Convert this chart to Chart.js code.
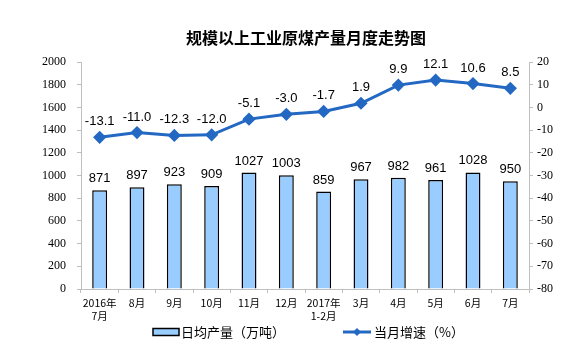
<!DOCTYPE html>
<html><head><meta charset="utf-8">
<script src="https://cdn.jsdelivr.net/npm/chart.js@4/dist/chart.umd.min.js"></script>
<style>html,body{margin:0;padding:0;background:#fff;}#wrap{width:574px;height:356px;}</style>
</head><body><div id="wrap"><canvas id="c" width="574" height="356"></canvas></div>
<script>
const categories = [["2016年","7月"],"8月","9月","10月","11月","12月",["2017年","1-2月"],"3月","4月","5月","6月","7月"];
const dailyOutput = [871,897,923,909,1027,1003,859,967,982,961,1028,950];
const monthlyGrowth = [-13.1,-11.0,-12.3,-12.0,-5.1,-3.0,-1.7,1.9,9.9,12.1,10.6,8.5];
const titleText = "规模以上工业原煤产量月度走势图";
const barLabel = "日均产量（万吨）";
const lineLabel = "当月增速（%）";

const BAR_FILL = "#99CCFF", LINE_COLOR = "#2368C2";
const CJK = "'Noto Sans CJK SC', sans-serif";
const SERIF = "'Liberation Serif', 'DejaVu Serif', serif";

const valueLabels = {
  id: 'valueLabels',
  afterDatasetsDraw(chart){
    const ctx = chart.ctx;
    ctx.save();
    ctx.font = "13px 'Liberation Sans', Arial, sans-serif";
    ctx.fillStyle = "#000";
    ctx.textAlign = "center";
    ctx.textBaseline = "alphabetic";
    chart.getDatasetMeta(0).data.forEach((el,i)=>{
      ctx.fillText(String(dailyOutput[i]), el.x, el.y - 8);
    });
    chart.getDatasetMeta(1).data.forEach((el,i)=>{
      ctx.fillText(monthlyGrowth[i].toFixed(1), el.x, el.y - 12);
    });
    ctx.restore();
  }
};

const customLegend = {
  id: 'customLegend',
  afterDraw(chart){
    const ctx = chart.ctx;
    const cy = 332;
    ctx.save();
    // bar swatch
    ctx.fillStyle = BAR_FILL;
    ctx.fillRect(153, cy - 3.5, 26, 7);
    ctx.strokeStyle = "#000"; ctx.lineWidth = 1.5;
    ctx.strokeRect(153, cy - 3.5, 26, 7);
    ctx.font = "13px " + CJK;
    ctx.fillStyle = "#000"; ctx.textAlign = "left"; ctx.textBaseline = "middle";
    ctx.fillText(barLabel, 181, cy);
    // line swatch
    ctx.strokeStyle = LINE_COLOR; ctx.lineWidth = 3;
    ctx.beginPath(); ctx.moveTo(343, cy); ctx.lineTo(371, cy); ctx.stroke();
    ctx.fillStyle = LINE_COLOR; ctx.beginPath();
    ctx.moveTo(357, cy - 4); ctx.lineTo(361, cy); ctx.lineTo(357, cy + 4); ctx.lineTo(353, cy); ctx.closePath(); ctx.fill();
    ctx.fillStyle = "#000";
    ctx.fillText(lineLabel, 374, cy);
    ctx.restore();
  }
};

new Chart(document.getElementById('c'), {
  type: 'bar',
  data: {
    labels: categories,
    datasets: [
      { type:'bar', label: barLabel, data: dailyOutput, yAxisID:'y',
        backgroundColor: BAR_FILL, borderColor:'#000', borderWidth:1.5,
        barPercentage: 0.4, categoryPercentage: 1.0, order: 2 },
      { type:'line', label: lineLabel, data: monthlyGrowth, yAxisID:'y1',
        borderColor: LINE_COLOR, backgroundColor: LINE_COLOR, borderWidth: 3,
        pointStyle:'rectRot', pointRadius: 4.5, pointBackgroundColor: LINE_COLOR,
        pointBorderColor: LINE_COLOR, tension: 0, order: 1 }
    ]
  },
  options: {
    responsive: false, animation: false,
    layout: { padding: { left: 38, right: 0, top: 0, bottom: 27 } },
    plugins: {
      title: { display: true, text: titleText, color:'#000',
        font: { family: CJK, size: 16, weight: 'bold' }, padding: { top: 28, bottom: 15 } },
      legend: { display: false },
      tooltip: { enabled:false }
    },
    scales: {
      x: {
        afterFit(s){ s.height = 40; },
        grid: { display: true, drawOnChartArea: false, offset: true, color:'#BFBFBF', tickLength: 4 },
        border: { display: true, color:'#BFBFBF', width: 1 },
        ticks: { color:'#000', font: { family: CJK, size: 10.5 }, maxRotation: 0, autoSkip: false, padding: 4 }
      },
      y: {
        position:'left', min: 0, max: 2000,
        afterFit(s){ s.width = 43; },
        grid: { display: true, drawOnChartArea: false, color:'#BFBFBF', tickLength: 4 },
        border: { display: true, color:'#BFBFBF', width: 1 },
        ticks: { stepSize: 200, color:'#000', font: { family: SERIF, size: 12 }, padding: 11,
          callback: (v) => String(v) }
      },
      y1: {
        position:'right', min: -80, max: 20,
        afterFit(s){ s.width = 45; },
        grid: { display: true, drawOnChartArea: false, color:'#BFBFBF', tickLength: 4 },
        border: { display: true, color:'#BFBFBF', width: 1 },
        ticks: { stepSize: 10, color:'#000', font: { family: SERIF, size: 12 }, padding: 4,
          callback: (v) => String(v) }
      }
    }
  },
  plugins: [valueLabels, customLegend]
});
</script>
</body></html>
